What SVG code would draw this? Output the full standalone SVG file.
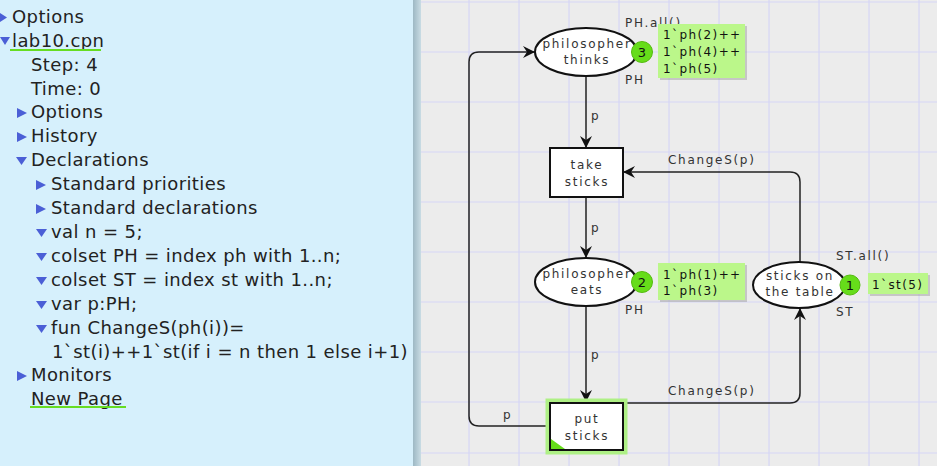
<svg xmlns="http://www.w3.org/2000/svg" width="937" height="466" viewBox="0 0 937 466">
<defs>
<style>
.tree{font-family:"DejaVu Sans","Liberation Sans",sans-serif;font-size:18px;letter-spacing:0.4px;fill:#222}
.tri{fill:#4b5fd6}
.lbl{font-family:"DejaVu Sans","Liberation Sans",sans-serif;font-size:12px;letter-spacing:1.7px;fill:#333}
.ctr{text-anchor:middle}
.mk{font-family:"DejaVu Sans","Liberation Sans",sans-serif;font-size:12px;letter-spacing:1.4px;fill:#111}
.node{fill:#fff;stroke:#111;stroke-width:2}
.arc{fill:none;stroke:#222;stroke-width:1.5}
.tok{fill:#66dd1a;stroke:#55bb10;stroke-width:1}
.tokt{font-family:"DejaVu Sans","Liberation Sans",sans-serif;font-size:13px;fill:#111;text-anchor:middle}
.mbox{fill:#bbf78a}
.shadow{fill:#999;opacity:0.45}
.grid{stroke:#d6d6f6;stroke-width:1.2}
</style>
<linearGradient id="div" x1="0" y1="0" x2="1" y2="0">
<stop offset="0" stop-color="#9db8c4"/>
<stop offset="1" stop-color="#c9dce4"/>
</linearGradient>
<marker id="ah" viewBox="-13 -7 14 14" refX="0" refY="0" markerWidth="14" markerHeight="14" markerUnits="userSpaceOnUse" orient="auto">
<path d="M0,0 L-12,-6 L-8,0 L-12,6 Z" fill="#111"/>
</marker>
</defs>

<!-- left panel -->
<rect x="0" y="0" width="413" height="466" fill="#d6f0fc"/>
<rect x="413" y="0" width="8" height="466" fill="url(#div)"/>
<g id="tree">
<path class="tri" d="M0,13 L7,17.5 L0,22 Z"/>
<text class="tree" x="12" y="23">Options</text>
<path class="tri" d="M0,37 L10,37 L5,45 Z"/>
<text class="tree" x="12" y="47">lab10.cpn</text>
<rect x="10" y="49" width="91" height="2" fill="#66dd22"/>
<text class="tree" x="31" y="71">Step: 4</text>
<text class="tree" x="31" y="95">Time: 0</text>
<path class="tri" d="M17,108 L27,113 L17,118 Z"/>
<text class="tree" x="31" y="118">Options</text>
<path class="tri" d="M17,132 L27,137 L17,142 Z"/>
<text class="tree" x="31" y="142">History</text>
<path class="tri" d="M16,157 L27,157 L21.5,165 Z"/>
<text class="tree" x="31" y="166">Declarations</text>
<path class="tri" d="M36,180 L46,185 L36,190 Z"/>
<text class="tree" x="51" y="190">Standard priorities</text>
<path class="tri" d="M36,204 L46,209 L36,214 Z"/>
<text class="tree" x="51" y="214">Standard declarations</text>
<path class="tri" d="M36,229 L47,229 L41.5,237 Z"/>
<text class="tree" x="51" y="238">val n = 5;</text>
<path class="tri" d="M36,253 L47,253 L41.5,261 Z"/>
<text class="tree" x="51" y="262">colset PH = index ph with 1..n;</text>
<path class="tri" d="M36,277 L47,277 L41.5,285 Z"/>
<text class="tree" x="51" y="286">colset ST = index st with 1..n;</text>
<path class="tri" d="M36,301 L47,301 L41.5,309 Z"/>
<text class="tree" x="51" y="310">var p:PH;</text>
<path class="tri" d="M36,325 L47,325 L41.5,333 Z"/>
<text class="tree" x="51" y="334">fun ChangeS(ph(i))=</text>
<text class="tree" x="52" y="358">1`st(i)++1`st(if i = n then 1 else i+1)</text>
<path class="tri" d="M17,371 L27,376 L17,381 Z"/>
<text class="tree" x="31" y="381">Monitors</text>
<text class="tree" x="31" y="405">New Page</text>
<rect x="30" y="406" width="96" height="2" fill="#66dd22"/>
</g>

<!-- canvas -->
<rect x="421" y="0" width="516" height="466" fill="#ececec"/>
<g id="grid">
<path class="grid" d="M469,0V466M519,0V466M569,0V466M619,0V466M669,0V466M719,0V466M769,0V466M819,0V466M869,0V466M919,0V466"/>
<path class="grid" d="M421,2H937M421,52H937M421,102H937M421,152H937M421,202H937M421,252H937M421,302H937M421,352H937M421,402H937M421,453H937"/>
</g>

<g id="connectors">
<path class="arc" d="M586,76 L586,148" marker-end="url(#ah)"/>
<text class="lbl" x="591" y="120">p</text>
<path class="arc" d="M586,197 L586,258" marker-end="url(#ah)"/>
<text class="lbl" x="591" y="232">p</text>
<path class="arc" d="M586,306 L586,402" marker-end="url(#ah)"/>
<text class="lbl" x="591" y="359">p</text>
<path class="arc" d="M550,426 L479,426 Q469,426 469,416 L469,62 Q469,52 479,52 L535,52" marker-end="url(#ah)"/>
<text class="lbl" x="503" y="419">p</text>
<path class="arc" d="M800,262 L800,182 Q800,172 790,172 L623,172" marker-end="url(#ah)"/>
<text class="lbl" x="668" y="164">ChangeS(p)</text>
<path class="arc" d="M622,403 L790,403 Q800,403 800,393 L800,308" marker-end="url(#ah)"/>
<text class="lbl" x="668" y="395">ChangeS(p)</text>
</g>

<g id="thinks">
<ellipse class="node" cx="586" cy="52" rx="51" ry="24"/>
<text class="lbl ctr" x="587" y="48">philosopher</text>
<text class="lbl ctr" x="587" y="64">thinks</text>
<text class="lbl" x="625" y="27">PH.all()</text>
<text class="lbl" x="625" y="84">PH</text>
<circle class="tok" cx="642" cy="52" r="10.5"/>
<text class="tokt" x="642" y="57">3</text>
<rect class="shadow" x="660" y="26" width="87" height="54"/>
<rect class="mbox" x="658" y="24" width="87" height="54"/>
<text class="mk" x="663" y="39">1`ph(2)++</text>
<text class="mk" x="663" y="56">1`ph(4)++</text>
<text class="mk" x="663" y="73">1`ph(5)</text>
</g>

<g id="take">
<rect class="node" x="550" y="148" width="73" height="49"/>
<text class="lbl ctr" x="587" y="169">take</text>
<text class="lbl ctr" x="587" y="186">sticks</text>
</g>

<g id="eats">
<ellipse class="node" cx="586" cy="282" rx="51" ry="24"/>
<text class="lbl ctr" x="587" y="278">philosopher</text>
<text class="lbl ctr" x="587" y="294">eats</text>
<text class="lbl" x="625" y="314">PH</text>
<circle class="tok" cx="642" cy="282" r="10.5"/>
<text class="tokt" x="642" y="287">2</text>
<rect class="shadow" x="660" y="265" width="87" height="37"/>
<rect class="mbox" x="658" y="263" width="87" height="37"/>
<text class="mk" x="663" y="279">1`ph(1)++</text>
<text class="mk" x="663" y="295">1`ph(3)</text>
</g>

<g id="table">
<ellipse class="node" cx="799" cy="285" rx="46" ry="23"/>
<text class="lbl ctr" x="800" y="280">sticks on</text>
<text class="lbl ctr" x="800" y="296">the table</text>
<text class="lbl" x="836" y="260">ST.all()</text>
<text class="lbl" x="836" y="316">ST</text>
<circle class="tok" cx="850" cy="285" r="10"/>
<text class="tokt" x="850" y="290">1</text>
<rect class="shadow" x="870" y="275" width="60" height="21"/>
<rect class="mbox" x="868" y="273" width="60" height="21"/>
<text class="mk" x="872" y="289">1`st(5)</text>
</g>

<g id="put">
<rect x="548" y="401" width="77" height="51" fill="none" stroke="#aef085" stroke-width="5"/>
<rect class="node" x="550" y="403" width="73" height="47"/>
<path d="M551,439 L565,449 L551,449 Z" fill="#66dd1a"/>
<text class="lbl ctr" x="587" y="423">put</text>
<text class="lbl ctr" x="587" y="440">sticks</text>
</g>
</svg>
